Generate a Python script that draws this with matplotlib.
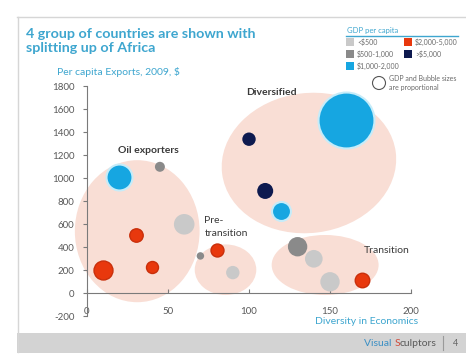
import matplotlib
matplotlib.use("Agg")
import matplotlib.pyplot as plt
from matplotlib.patches import Ellipse, Rectangle
from matplotlib.transforms import Affine2D, offset_copy
from matplotlib.lines import Line2D

plt.rcParams['font.family'] = ['Lato', 'DejaVu Sans']

# ---------------- data ----------------
title = "4 group of countries are shown with\nsplitting up of Africa"
y_title = "Per capita Exports, 2009, $"
x_title = "Diversity in Economics"

# bubbles: diversity (x), per-capita exports (y), relative GDP (bubble area), GDP class
x_vals = [20, 45, 60, 30, 10, 40,      # oil exporters
          70, 80, 90,                  # pre-transition
          160, 100, 110, 120,          # diversified
          130, 140, 150, 170]          # transition
y_vals = [1010, 1100, 600, 505, 205, 230,
          325, 380, 180,
          1510, 1340, 890, 720,
          405, 300, 100, 120]
gdp = [169, 25, 106, 45, 90, 36,
       14, 42, 45,
       784, 45, 64, 90,
       94, 78, 94, 53]
gdp_class = ["1000-2000", "500-1000", "<500", "2000-5000", "2000-5000", "2000-5000",
             "500-1000", "2000-5000", "<500",
             "1000-2000", ">5000", ">5000", "1000-2000",
             "500-1000", "<500", "<500", "2000-5000"]

# group regions: name, centre x, centre y, width, height, tilt
groups = ["Oil exporters", "Pre-\ntransition", "Diversified", "Transition"]
group_cx = [31, 85.5, 137, 147]
group_cy = [540, 205, 1133, 246]
group_w = [77, 38, 108, 66]
group_h = [1235, 440, 1217, 522]
group_tilt = [0, 0, 7, 0]

legend_labels = ["<$500", "$2,000-5,000", "$500-1,000", ">$5,000", "$1,000-2,000"]
legend_keys = ["<500", "2000-5000", "500-1000", ">5000", "1000-2000"]

x_ticks = [0, 50, 100, 150, 200]
y_ticks = [-200, 0, 200, 400, 600, 800, 1000, 1200, 1400, 1600, 1800]

# ---------------- styles ----------------
colors = {"<500": "#c9c9c9", "500-1000": "#8a8a8a", "1000-2000": "#16a6e1",
          "2000-5000": "#e8380d", ">5000": "#0e1a4f"}
edges = {"<500": "none", "500-1000": "none", "1000-2000": "#c6ecf9",
         "2000-5000": "#c92f0b", ">5000": "none"}
teal = "#3ea6cf"
region_col = "#f9ded5"

W, H = 466, 362
fig = plt.figure(figsize=(W / 100, H / 100), dpi=100)

def fx(px):
    return px / W

def fy(py):
    return 1 - py / H

# slide frame
fig.add_artist(Line2D([fx(17), fx(466)], [fy(17), fy(17)], color="#d6d6d6", lw=1))
fig.add_artist(Line2D([fx(17.5), fx(17.5)], [fy(17), fy(352)], color="#d6d6d6", lw=1))
fig.add_artist(Rectangle((fx(17), fy(352.5)), fx(466) - fx(17), fy(332.5) - fy(352.5),
                         transform=fig.transFigure, facecolor="#d3d3d3", edgecolor="none"))

# footer text: "Visual Sculptors" (built right to left)
renderer = fig.canvas.get_renderer()
t3 = fig.text(fx(437), fy(343), "culptors", color="#5a5a5a", fontsize=7.5, ha="right", va="center")
w3 = t3.get_window_extent(renderer).width
t2 = fig.text(fx(437) - w3 / W, fy(343), "S", color="#d04a3a", fontsize=7.5, ha="right", va="center")
w2 = t2.get_window_extent(renderer).width
fig.text(fx(437) - (w3 + w2) / W, fy(343), "Visual ", color="#3b8fc4", fontsize=7.5,
         ha="right", va="center")
fig.add_artist(Line2D([fx(443), fx(443)], [fy(336), fy(350)], color="#9a9a9a", lw=0.8))
fig.text(fx(456), fy(343), "4", color="#666666", fontsize=6.5, ha="center", va="center")

# title
fig.text(fx(26), fy(41), title, color=teal, fontsize=10.3, fontweight="bold",
         ha="left", va="center", linespacing=1.3)
fig.text(fx(57), fy(72), y_title, color=teal, fontsize=7.5, ha="left", va="center")

# axes
ax = fig.add_axes([fx(87), fy(316.3), fx(411) - fx(87), fy(86.3) - fy(316.3)])
ax.set_xlim(0, 200)
ax.set_ylim(-200, 1800)
ax.patch.set_alpha(0)

kx, ky = 81 / 50, 23 / 200
for name, cx, cy, w, h, t in zip(groups, group_cx, group_cy, group_w, group_h, group_tilt):
    e = Ellipse((cx * kx, cy * ky), w * kx, h * ky, angle=t,
                transform=Affine2D().scale(1 / kx, 1 / ky) + ax.transData,
                facecolor=region_col, edgecolor="none", zorder=1, clip_on=False)
    ax.add_patch(e)

for x, y, g, c in zip(x_vals, y_vals, gdp, gdp_class):
    ax.scatter([x], [y], s=g * 2.07, color=colors[c], edgecolors=edges[c],
               linewidths=1.5 if c == "1000-2000" else 1.0, zorder=3, clip_on=False)

# group labels
ax.text(38, 1240, groups[0], fontsize=7.5, fontweight="bold", color="#3a3a3a", ha="center", va="center")
ax.text(72.5, 635, "Pre-", fontsize=7.5, color="#3a3a3a", ha="left", va="center")
ax.text(72.5, 520, "transition", fontsize=7.5, color="#3a3a3a", ha="left", va="center")
ax.text(114, 1750, groups[2], fontsize=7.5, fontweight="bold", color="#3a3a3a", ha="center", va="center")
ax.text(199, 375, groups[3], fontsize=7.5, color="#3a3a3a", ha="right", va="center")

# spines / ticks
for s in ["top", "right"]:
    ax.spines[s].set_visible(False)
ax.spines["bottom"].set_position(("data", 0))
ax.spines["left"].set_color("#7a7a7a")
ax.spines["bottom"].set_color("#7a7a7a")
ax.set_xticks(x_ticks)
ax.set_yticks(y_ticks)
ax.set_xticklabels([str(v) for v in x_ticks])
ax.set_yticklabels([str(v) for v in y_ticks])
ax.tick_params(axis="y", direction="out", length=3, color="#7a7a7a", labelsize=7,
               labelcolor="#595959", pad=6)
ax.tick_params(axis="x", direction="in", length=3, color="#7a7a7a", labelsize=7,
               labelcolor="#595959", pad=10)
fig.text(fx(418), fy(322), x_title, color=teal, fontsize=7.5, ha="right", va="center")

# legend (GDP per capita)
fig.text(fx(347), fy(31), "GDP per capita", color=teal, fontsize=5.5, ha="left", va="center")
fig.add_artist(Line2D([fx(346), fx(458)], [fy(35.5), fy(35.5)], color=teal, lw=1))
leg_pos = [(346, 42), (404, 42), (346, 54), (404, 54), (346, 66)]
for (px, py), lab, k in zip(leg_pos, legend_labels, legend_keys):
    fig.add_artist(Rectangle((fx(px), fy(py + 4)), fx(8), fy(0) - fy(8),
                             transform=fig.transFigure, facecolor=colors[k], edgecolor="none"))
    fig.text(fx(px + 11), fy(py), lab, color="#6a6a6a", fontsize=5, ha="left", va="center")
circ = Ellipse((fx(379), fy(83)), fx(13), fy(0) - fy(13), transform=fig.transFigure,
               facecolor="white", edgecolor="#555555", lw=0.8)
fig.add_artist(circ)
fig.text(fx(389), fy(83), "GDP and Bubble sizes\nare proportional", color="#6a6a6a",
         fontsize=5, ha="left", va="center", linespacing=1.2)

fig.savefig("out.png", dpi=100)
